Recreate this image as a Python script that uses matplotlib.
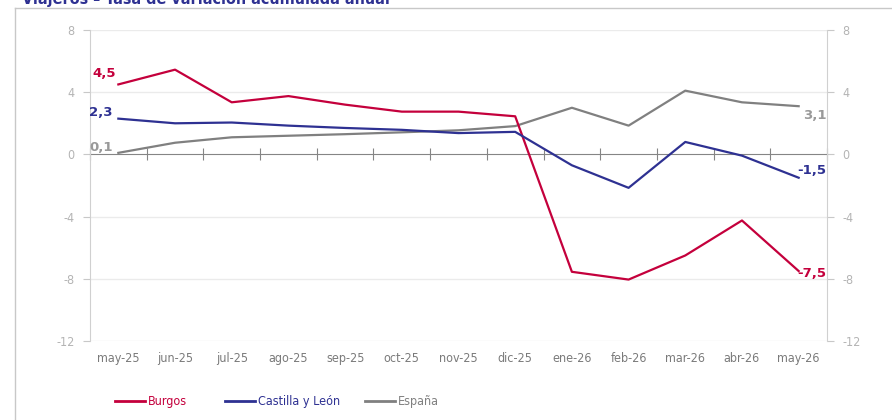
import matplotlib.pyplot as plt
from matplotlib.lines import Line2D
import matplotlib.transforms as mtransforms

meses = ['may-25', 'jun-25', 'jul-25', 'ago-25', 'sep-25', 'oct-25', 'nov-25',
         'dic-25', 'ene-26', 'feb-26', 'mar-26', 'abr-26', 'may-26']
burgos = [4.5, 5.45, 3.35, 3.75, 3.2, 2.75, 2.75, 2.45, -7.55, -8.05, -6.5, -4.25, -7.5]
cyl = [2.3, 2.0, 2.05, 1.85, 1.7, 1.58, 1.37, 1.45, -0.7, -2.15, 0.8, -0.08, -1.5]
espana = [0.1, 0.75, 1.1, 1.2, 1.3, 1.42, 1.55, 1.82, 3.0, 1.85, 4.1, 3.35, 3.1]
series = ['Burgos', 'Castilla y León', 'España']

c_burgos = '#C4003C'
c_cyl = '#2E3192'
c_esp = '#808080'
fuente = dict(family='DejaVu Sans', stretch='condensed')

fig = plt.figure(figsize=(8.92, 4.2), dpi=100)
ax = fig.add_axes([90 / 892, 1 - 341 / 420, 737 / 892, 311 / 420])

x = list(range(len(meses)))
ax.plot(x, burgos, color=c_burgos, lw=1.6, zorder=4)
ax.plot(x, cyl, color=c_cyl, lw=1.6, zorder=4)
ax.plot(x, espana, color=c_esp, lw=1.6, zorder=3)

ax.set_xlim(-0.5, len(meses) - 0.5)
ax.set_ylim(-12, 8)
yt = [-12, -8, -4, 0, 4, 8]
ax.set_yticks(yt)
ax.set_yticklabels([str(v) for v in yt], fontsize=9, color='#b4b4b4', **fuente)
for v in yt:
    if v != 0:
        ax.axhline(v, color='#ebebeb', lw=1, zorder=1)
ax.tick_params(axis='y', length=5, color='#c8c8c8', pad=6, labelright=True, right=True)
for t in ax.yaxis.get_ticklabels() + [tk.label2 for tk in ax.yaxis.get_major_ticks()]:
    t.set_fontstretch('condensed')
    t.set_color('#b4b4b4')

# eje de categorías sobre el cero
ax.spines['bottom'].set_position(('data', 0))
ax.spines['bottom'].set_color('#858585')
ax.spines['bottom'].set_zorder(2)
ax.set_xticks([i - 0.5 for i in range(len(meses) + 1)])
ax.set_xticklabels([])
ax.tick_params(axis='x', direction='inout', length=9, color='#858585')
ax.spines['top'].set_visible(False)
for s in ['left', 'right']:
    ax.spines[s].set_color('#d0d0d0')

trans = mtransforms.blended_transform_factory(ax.transData, ax.transAxes)
for i, m in enumerate(meses):
    ax.text(i, -0.035, m, transform=trans, ha='center', va='top',
            fontsize=9, color='#7a7a7a', **fuente)

# etiquetas de extremos
lab = dict(fontsize=9.5, fontweight='bold', textcoords='offset points')
ax.annotate('4,5', (0, burgos[0]), xytext=(-19, 5), color=c_burgos, **lab)
ax.annotate('2,3', (0, cyl[0]), xytext=(-21, 2), color=c_cyl, **lab)
ax.annotate('0,1', (0, espana[0]), xytext=(-21, 1), color='#999999', **lab)
ax.annotate('3,1', (12, espana[-1]), xytext=(3, -9), color='#999999', **lab)
ax.annotate('-1,5', (12, cyl[-1]), xytext=(-1, 3), color=c_cyl, **lab)
ax.annotate('-7,5', (12, burgos[-1]), xytext=(-1, -4), color=c_burgos, **lab)

# leyenda: una entrada por serie
for nombre, c, x0 in zip(series, (c_burgos, c_cyl, c_esp), (104, 214, 354)):
    leg = fig.legend([Line2D([], [], color=c, lw=2)], [nombre], loc='center left',
                     bbox_to_anchor=(x0 / 892, 1 - 402 / 420), frameon=False,
                     handlelength=2.4, handletextpad=0.2,
                     prop={'family': 'DejaVu Sans', 'stretch': 'condensed', 'size': 9})
    leg.get_texts()[0].set_color(c)

# marco y título cortado
fig.add_artist(Line2D([15 / 892, 15 / 892], [0, 1 - 8 / 420], color='#c8c8c8', lw=1))
fig.add_artist(Line2D([15 / 892, 1], [1 - 8 / 420, 1 - 8 / 420], color='#c8c8c8', lw=1))
fig.text(22 / 892, 1 - 4 / 420, 'Viajeros – Tasa de variación acumulada anual',
         fontsize=11.5, fontweight='bold', color=c_cyl, va='baseline', **fuente)

fig.savefig('out.png', dpi=100)
